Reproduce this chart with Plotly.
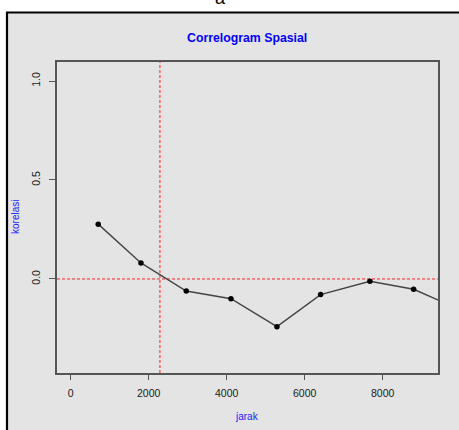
import plotly.graph_objects as go

# data
jarak = [707, 1803, 2964, 4111, 5290, 6410, 7674, 8795, 9915]
korelasi = [0.277, 0.081, -0.061, -0.100, -0.241, -0.079, -0.012, -0.052, -0.150]
x_ticks = [0, 2000, 4000, 6000, 8000]
y_ticks = [0.0, 0.5, 1.0]
y_tick_labels = ["0.0", "0.5", "1.0"]
vline_x = 2290
hline_y = 0.0

W, H = 459, 430
L, R, T, B = 57, 21, 62, 57
pw, ph = W - L - R, H - T - B

def px(x):
    return (x - L) / pw

def py(y):
    return (H - B - y) / ph

GRAY = "#e4e4e4"

fig = go.Figure()
fig.add_trace(go.Scatter(
    x=jarak, y=korelasi, mode="lines+markers",
    line=dict(color="#444444", width=1.4),
    marker=dict(color="black", size=5.5),
    showlegend=False, cliponaxis=True,
))

shapes = [
    dict(type="line", xref="x", yref="paper", x0=vline_x, x1=vline_x, y0=0, y1=1,
         line=dict(color="#ff2020", width=1, dash="3px,2px"), layer="below"),
    dict(type="line", xref="paper", yref="y", x0=0, x1=1, y0=hline_y, y1=hline_y,
         line=dict(color="#ff2020", width=1, dash="3px,2px"), layer="below"),
    dict(type="rect", xref="paper", yref="paper", x0=px(0), x1=px(W), y0=py(12), y1=py(0),
         fillcolor="white", line=dict(width=0), layer="below"),
    dict(type="rect", xref="paper", yref="paper", x0=px(0), x1=px(6), y0=py(H), y1=py(0),
         fillcolor="white", line=dict(width=0), layer="below"),
    dict(type="line", xref="paper", yref="paper", x0=px(6), x1=px(W), y0=py(12.5), y1=py(12.5),
         line=dict(color="black", width=2.2)),
    dict(type="line", xref="paper", yref="paper", x0=px(7), x1=px(7), y0=py(12), y1=py(H),
         line=dict(color="black", width=2.2)),
]

annotations = [
    dict(text="a", xref="paper", yref="paper", x=px(220), y=py(10), xanchor="center",
         yanchor="bottom", showarrow=False, font=dict(size=18, color="black",
         family="Liberation Sans, Arial")),
    dict(text="<b>Correlogram Spasial</b>", xref="paper", yref="paper", x=px(247), y=py(38),
         xanchor="center", yanchor="middle", showarrow=False,
         font=dict(size=12.3, color="#0000ff", family="Liberation Sans, Arial")),
    dict(text="korelasi", xref="paper", yref="paper", x=px(15), y=py(217), textangle=-90,
         xanchor="center", yanchor="middle", showarrow=False,
         font=dict(size=10, color="#2020ff", family="Liberation Sans, Arial")),
    dict(text="jarak", xref="paper", yref="paper", x=px(247), y=py(416),
         xanchor="center", yanchor="middle", showarrow=False,
         font=dict(size=10, color="#2020ff", family="Liberation Sans, Arial")),
]

tickfont = dict(size=10.5, color="#1a1a1a", family="Liberation Sans, Arial")

fig.update_layout(
    width=W, height=H,
    margin=dict(l=L, r=R, t=T, b=B, pad=0),
    paper_bgcolor=GRAY, plot_bgcolor=GRAY,
    shapes=shapes, annotations=annotations,
    xaxis=dict(range=[-350, 9420], tickvals=x_ticks, ticktext=[str(v) for v in x_ticks],
               showgrid=False, zeroline=False, showline=True, linecolor="#555555",
               linewidth=1.5, mirror=True, ticks="outside", ticklen=5, tickwidth=1.2,
               tickcolor="#555555", tickfont=tickfont, ticklabelstandoff=5),
    yaxis=dict(range=[-0.475, 1.096], tickvals=y_ticks, ticktext=y_tick_labels,
               showgrid=False, zeroline=False, showline=True, linecolor="#555555",
               linewidth=1.5, mirror=True, ticks="outside", ticklen=6, tickwidth=1.2,
               tickcolor="#555555", tickangle=-90, tickfont=tickfont,
               ticklabelstandoff=5),
)

fig.write_html("out.html")
